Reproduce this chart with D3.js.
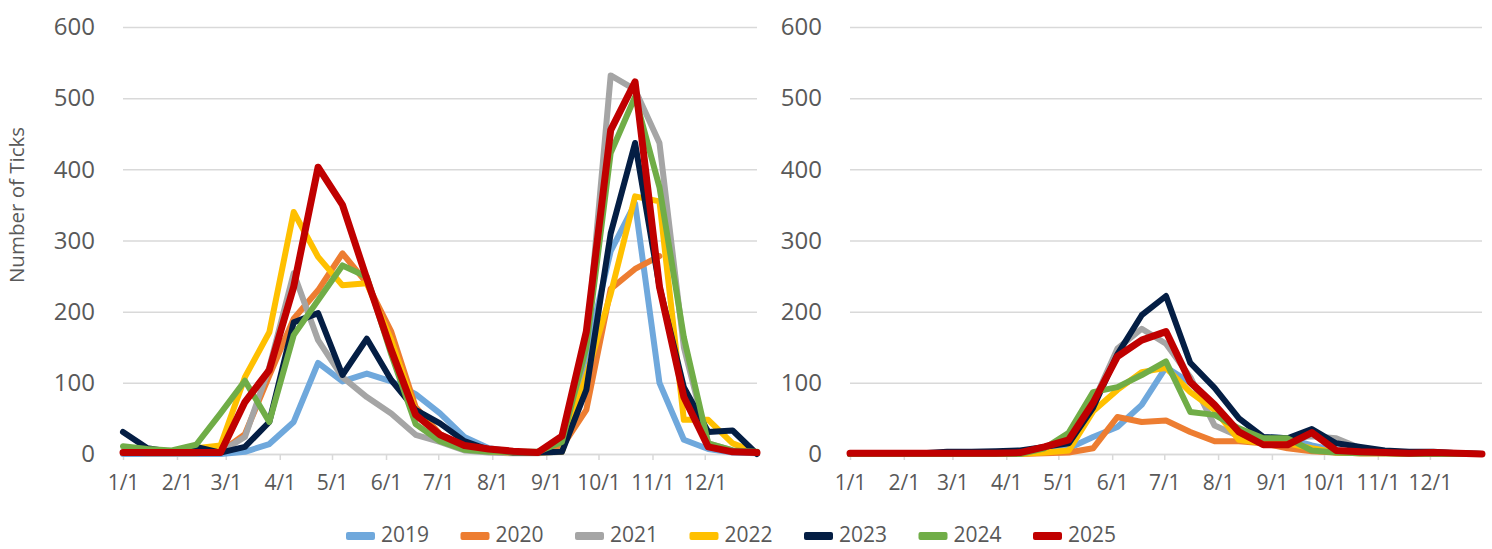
<!DOCTYPE html>
<html>
<head>
<meta charset="utf-8">
<script src="https://cdn.jsdelivr.net/npm/d3@7"></script>
<style>
	body { margin: 0; background: #fff; }
	svg text { font-family: "Open Sans", sans-serif; fill: #595959; }
</style>
</head>
<body>
<div id="graphicContainer"></div>
<script>

var sampleDates = ["1/1","1/15","1/29","2/12","2/26","3/12","3/26","4/9","4/23","5/7","5/21","6/4","6/18","7/2",
	"7/16","7/30","8/13","8/27","9/10","9/24","10/8","10/22","11/5","11/19","12/3","12/17","12/31"]

var years = ["2019","2020","2021","2022","2023","2024","2025"]

var yTicks = [0, 100, 200, 300, 400, 500, 600]

// left panel
var left2019 = [0,0,0,0,0,3,14,45,128,102,113,102,84,57,24,8,3,2,3,140,285,352,100,20,7,2,1]
var left2020 = [2,1,1,1,3,28,110,190,230,282,240,172,66,28,9,3,2,2,10,62,232,260,278,null,null,null,null]
var left2021 = [2,1,1,1,3,24,122,254,160,108,80,57,27,17,5,2,1,1,3,150,532,512,437,150,15,5,2]
var left2022 = [2,2,2,8,12,108,171,340,277,237,240,160,60,25,10,4,2,2,3,110,225,362,355,48,48,15,2]
var left2023 = [31,8,3,10,2,10,45,185,198,111,162,104,62,43,18,6,2,2,3,90,310,437,235,94,31,33,0]
var left2024 = [11,7,5,13,57,103,45,167,216,265,249,140,42,18,6,3,3,3,17,150,423,502,375,164,15,5,3]
var left2025 = [2,2,2,2,2,73,118,235,403,350,246,146,55,27,12,7,4,2,25,172,455,523,235,80,10,3,2]

// right panel
var right2019 = [0,0,0,0,0,0,0,0,3,8,24,38,69,122,100,66,31,24,22,12,5,2,1,1,1,1,0]
var right2020 = [0,0,0,0,0,0,0,0,1,2,8,52,45,47,31,18,18,15,8,4,2,1,1,null,null,null,null]
var right2021 = [0,0,0,0,0,1,1,1,5,25,72,148,176,155,108,40,25,22,22,25,22,8,4,2,1,1,0]
var right2022 = [0,0,0,0,0,0,0,0,2,5,60,90,115,121,87,62,20,15,15,8,2,1,1,0,0,0,0]
var right2023 = [0,0,0,1,3,3,4,5,10,15,65,140,195,222,128,93,50,24,22,35,15,10,5,3,3,1,0]
var right2024 = [0,0,0,0,0,0,0,0,8,30,87,94,111,130,59,55,36,22,22,5,2,1,1,0,0,0,0]
var right2025 = [1,1,1,1,1,1,1,2,10,20,72,137,160,172,101,69,31,13,13,30,5,3,2,1,2,1,0]

var leftSeries = [left2019, left2020, left2021, left2022, left2023, left2024, left2025]
var rightSeries = [right2019, right2020, right2021, right2022, right2023, right2024, right2025]

var colours = ["#6FA8DC", "#ED7D31", "#A5A5A5", "#FFC000", "#041E44", "#70AD47", "#C00000"]

function init() {

	var width = 1492
	var height = 549

	var svg = d3.select("#graphicContainer").append("svg")
		.attr("width", width)
		.attr("height", height)

	var parseDay = d3.timeParse("%m/%d/%Y")
	var dates = sampleDates.map(d => parseDay(d + "/2019"))

	var y = d3.scaleLinear()
		.domain([0, 600])
		.range([454, 27])

	function drawPanel(series, x0, x1) {

		var x = d3.scaleTime()
			.domain([dates[0], dates[dates.length - 1]])
			.range([x0, x1])

		var panel = svg.append("g")

		var yAxis = d3.axisLeft(y)
			.tickValues(yTicks)
			.tickSize(-(x1 - x0))
			.tickPadding(28)

		panel.append("g")
			.attr("class", "axis y")
			.attr("transform", "translate(" + x0 + ",0)")
			.call(yAxis)

		panel.selectAll(".axis.y .domain").remove()
		panel.selectAll(".axis.y line")
			.attr("stroke", "#d9d9d9")
			.attr("stroke-width", 1.5)
		panel.selectAll(".axis.y text")
			.attr("font-size", 24)
			.style("fill", "#595959")

		var xAxis = d3.axisBottom(x)
			.ticks(d3.timeMonth.every(1))
			.tickSize(6)
			.tickSizeOuter(0)
			.tickPadding(15)
			.tickFormat(d3.timeFormat("%-m/%-d"))

		panel.append("g")
			.attr("class", "axis x")
			.attr("transform", "translate(0," + y(0) + ")")
			.call(xAxis)

		panel.selectAll(".axis.x .domain")
			.attr("stroke", "#d9d9d9")
			.attr("stroke-width", 1.5)
		panel.selectAll(".axis.x line")
			.attr("stroke", "#d9d9d9")
			.attr("stroke-width", 1.5)
		panel.selectAll(".axis.x text")
			.attr("font-size", 21)
			.style("fill", "#595959")

		var line = d3.line()
			.defined(d => d != null)
			.x((d, i) => x(dates[i]))
			.y(d => y(d))

		panel.selectAll(".yearLine")
			.data(series)
			.enter()
			.append("path")
			.attr("class", "yearLine")
			.attr("d", d => line(d))
			.attr("fill", "none")
			.attr("stroke", (d, i) => colours[i])
			.attr("stroke-width", (d, i) => i == 6 ? 7 : 6)
			.attr("stroke-linejoin", "round")
			.attr("stroke-linecap", "round")
	}

	drawPanel(leftSeries, 123, 757)
	drawPanel(rightSeries, 850, 1482)

	svg.append("text")
		.attr("transform", "translate(24,205) rotate(-90)")
		.attr("text-anchor", "middle")
		.attr("font-size", 20.5)
		.text("Number of Ticks")

	var legend = svg.append("g")
		.attr("class", "legend")

	var items = legend.selectAll(".item")
		.data(years)
		.enter()
		.append("g")
		.attr("class", "item")
		.attr("transform", (d, i) => "translate(" + (346 + i * 114.5) + ",0)")

	items.append("rect")
		.attr("x", 0)
		.attr("y", 532)
		.attr("width", 29)
		.attr("height", 8)
		.attr("rx", 2)
		.attr("fill", (d, i) => colours[i])

	items.append("text")
		.attr("x", 35)
		.attr("y", 535)
		.attr("dy", "0.35em")
		.attr("font-size", 21)
		.text(d => d)

}

init()

</script>
</body>
</html>
